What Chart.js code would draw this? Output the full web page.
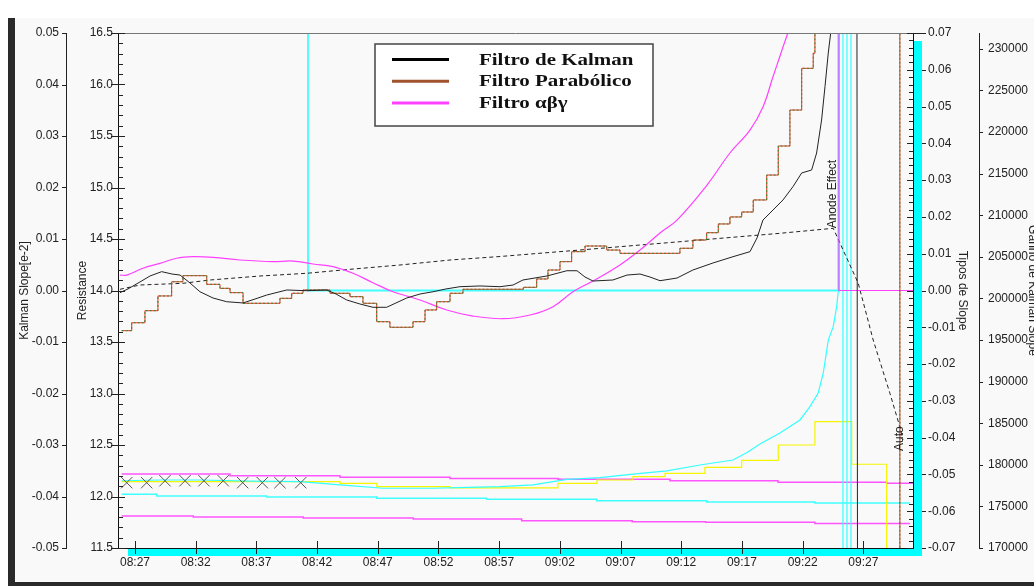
<!DOCTYPE html>
<html>
<head>
<meta charset="utf-8">
<script src="https://cdn.jsdelivr.net/npm/chart.js@4.4.0/dist/chart.umd.min.js"></script>
<style>
html, body { margin: 0; padding: 0; overflow: hidden; background: #fff; width: 1034px; height: 586px; }
#frame { position: absolute; left: 8px; top: 18px; width: 1019px; height: 564px; background: #f9f9f9;
         border-left: 7px solid #2a2a2a; border-bottom: 4px solid #2a2a2a; }
#c { position: absolute; left: 0; top: 0; }
</style>
</head>
<body>
<div id="frame"></div>
<canvas id="c" width="1040" height="586"></canvas>
<script>
// time is in minutes after 08:00
const xMin = 25.6, xMax = 91.09;
const xTickValues = [27, 32, 37, 42, 47, 52, 57, 62, 67, 72, 77, 82, 87];
const xTickLabels = ['08:27', '08:32', '08:37', '08:42', '08:47', '08:52', '08:57',
                     '09:02', '09:07', '09:12', '09:17', '09:22', '09:27'];
const ganhoTicks = [170000, 175000, 180000, 185000, 190000, 195000, 200000,
                    205000, 210000, 215000, 220000, 225000, 230000];

const legendLabels = ['Filtro de Kalman', 'Filtro Parabólico', 'Filtro αβγ'];

// Filtro de Kalman (Resistance)
const kalmanTime = [25.76, 26.42, 27.41, 28.24, 29.20, 30.05, 30.71, 31.53, 32.35, 33.43, 34.55, 35.90,
  36.88, 37.85, 39.50, 41.14, 42.79, 43.56, 44.44, 45.53, 46.60, 47.73, 48.50, 49.38, 50.48, 51.55,
  52.62, 53.77, 55.42, 57.07, 58.14, 58.96, 60.94, 62.58, 63.41, 64.07, 64.73, 66.37, 67.53, 68.60,
  69.42, 70.25, 71.65, 72.96, 74.61, 76.26, 77.66, 78.24, 78.73, 79.31, 80.38, 81.20, 81.92, 82.74,
  83.15, 83.56, 83.84, 84.11, 84.31, 84.50, 86.47, 86.52, 91.10];
const kalmanRes = [13.979, 14.015, 14.083, 14.141, 14.183, 14.160, 14.150, 14.073, 13.988, 13.927, 13.891, 13.879,
  13.917, 13.956, 14.005, 13.998, 14.005, 13.966, 13.908, 13.869, 13.837, 13.837, 13.879, 13.927, 13.966, 13.988,
  14.015, 14.037, 14.044, 14.037, 14.053, 14.102, 14.141, 14.192, 14.192, 14.131, 14.092, 14.102, 14.150, 14.160,
  14.131, 14.095, 14.121, 14.199, 14.267, 14.328, 14.377, 14.510, 14.684, 14.752, 14.879, 15.008, 15.141, 15.170,
  15.335, 15.655, 15.979, 16.306, 16.500, 17.000, 17.000, 11.000, 11.000];

// Filtro Parabólico (Resistance, step changes)
const paraTime = [25.90, 26.73, 27.82, 28.89, 30.02, 30.95, 32.91, 34.00, 34.83, 35.90, 38.94, 39.91, 40.84,
  43.06, 44.71, 45.78, 46.91, 48.00, 49.90, 50.89, 51.85, 52.95, 54.02, 58.99, 60.09, 61.02, 62.01, 62.97,
  64.07, 65.86, 66.95, 71.89, 72.96, 74.09, 75.05, 76.01, 76.98, 77.93, 79.04, 79.99, 80.95, 81.92, 82.87,
  83.01, 90.01];
const paraRes = [13.610, 13.687, 13.804, 13.947, 14.085, 14.144, 14.060, 14.021, 13.979, 13.876, 13.924, 13.973, 14.005,
  13.973, 13.940, 13.876, 13.697, 13.643, 13.697, 13.811, 13.891, 13.973, 14.012, 14.031, 14.112, 14.199, 14.280, 14.377,
  14.432, 14.393, 14.361, 14.410, 14.490, 14.561, 14.646, 14.714, 14.762, 14.879, 15.121, 15.403, 15.752, 16.157, 16.303,
  17.000, 11.000];

// Filtro αβγ (Resistance): smooth part, then the drop after the anode effect
const abgTime = [25.76, 26.32, 27.66, 29.06, 30.43, 31.78, 33.43, 35.65, 38.37, 40.01, 41.66, 43.31, 44.96,
  46.60, 48.25, 50.48, 52.68, 54.84, 57.31, 59.54, 61.43, 63.08, 64.73, 66.95, 68.60, 70.25, 71.65, 74.12,
  76.01, 77.66, 78.73, 79.55, 80.38, 80.95, 81.50];
const abgRes = [14.150, 14.150, 14.216, 14.264, 14.313, 14.328, 14.322, 14.296, 14.280, 14.286, 14.257, 14.231, 14.167,
  14.076, 13.988, 13.908, 13.811, 13.752, 13.726, 13.762, 13.843, 13.988, 14.092, 14.248, 14.393, 14.558, 14.684, 15.024,
  15.335, 15.558, 15.782, 16.073, 16.364, 16.578, 17.000];
const abgTailTime = [84.99, 84.99, 91.10];
const abgTailRes = [17.000, 14.000, 14.000];

// cyan resistance trace
const cyanTime = [25.90, 29.06, 32.35, 36.47, 40.59, 43.89, 47.43, 51.55, 54.35, 57.07, 59.78, 62.58, 65.30,
  68.02, 70.82, 73.54, 76.26, 77.49, 78.48, 80.13, 81.78, 82.60, 83.28, 83.70, 84.11, 84.52, 84.80, 84.93,
  84.99, 85.32, 85.32, 85.65, 85.65, 85.98, 85.98];
const cyanRes = [12.153, 12.160, 12.160, 12.150, 12.144, 12.112, 12.080, 12.080, 12.089, 12.095, 12.112, 12.167, 12.183,
  12.218, 12.248, 12.306, 12.354, 12.432, 12.510, 12.617, 12.743, 12.872, 13.005, 13.199, 13.519, 13.649, 13.843, 13.988,
  17.000, 17.000, 11.000, 11.000, 17.000, 17.000, 11.000];

// Tipos de Slope
const tiposTime = [25.60, 41.25, 41.25, 84.93, 84.93];
const tiposVal = [0.10, 0.10, 0.00, 0.00, 0.10];

// yellow trace (step changes)
const yellowTime = [25.90, 43.89, 46.93, 52.95, 61.84, 65.06, 68.02, 70.66, 73.95, 76.98, 79.99, 83.01, 86.04, 88.92];
const yellowRes = [12.144, 12.128, 12.095, 12.083, 12.128, 12.160, 12.192, 12.225, 12.283, 12.350, 12.500, 12.726, 12.313, 11.000];

// flat limit lines (step changes)
const magHighTime = [25.90, 34.83, 43.89, 52.95, 61.84, 71.07, 79.97, 88.92, 91.10];
const magHighRes = [12.218, 12.202, 12.186, 12.175, 12.167, 12.153, 12.138, 12.128, 12.128];
const cyanLowTime = [25.90, 28.79, 37.85, 46.91, 55.97, 65.03, 74.09, 83.01, 90.84];
const cyanLowRes = [12.021, 12.005, 11.995, 11.983, 11.973, 11.959, 11.947, 11.937, 11.937];
const magLowTime = [25.90, 31.80, 40.86, 49.92, 58.85, 67.96, 74.01, 83.01, 90.84];
const magLowRes = [11.811, 11.801, 11.791, 11.782, 11.765, 11.755, 11.749, 11.739, 11.739];

// X markers
const markTime = [26.32, 27.96, 29.47, 31.12, 32.68, 34.27, 35.87, 37.49, 38.94, 40.65];
const markRes = [12.134, 12.134, 12.153, 12.153, 12.153, 12.153, 12.134, 12.134, 12.134, 12.134];

// Ganho de Kalman Slope (dashed)
const ganhoTime = [25.76, 27.41, 30.95, 33.18, 37.30, 41.14, 44.71, 48.83, 52.95, 57.07, 63.66, 71.89, 80.13,
  84.52, 86.58, 87.81, 89.19, 90.01, 90.26];
const ganhoVal = [201093, 201610, 201814, 202211, 202692, 203016, 203497, 204014, 204615, 205035, 205817, 206814, 207824,
  208425, 201814, 195000, 188593, 184543, 182981];

// event labels
const noteText = ['Anode Effect', 'Auto'];
const noteTime = [84.52, 90.26];
const noteGanho = [208425, 182981];

function pts(xs, ys) { return xs.map((x, i) => ({ x: x, y: ys[i] })); }

const FONT = 'Liberation Sans, Arial, sans-serif';

function ticksY(ctx, scale, step, x0, x1) {
  const n0 = Math.ceil(scale.min / step - 1e-6), n1 = Math.floor(scale.max / step + 1e-6);
  ctx.beginPath();
  for (let n = n0; n <= n1; n++) {
    const y = Math.round(scale.getPixelForValue(n * step)) + 0.5;
    ctx.moveTo(x0, y); ctx.lineTo(x1, y);
  }
  ctx.stroke();
}

const decor = {
  id: 'decor',
  afterDatasetsDraw(chart) {
    const { ctx, chartArea: a, scales } = chart;
    ctx.save();
    ctx.lineWidth = 1;
    ctx.strokeStyle = '#777';
    ctx.beginPath(); ctx.moveTo(a.left, a.top + 0.5); ctx.lineTo(a.right, a.top + 0.5); ctx.stroke();

    ctx.strokeStyle = '#222';
    ticksY(ctx, scales.res, 0.1, a.left, a.left + 5);
    ticksY(ctx, scales.res, 0.5, a.left - 7, a.left + 7);
    ticksY(ctx, scales.kal, 0.01, scales.kal.right - 4, scales.kal.right);
    ticksY(ctx, scales.tipos, 0.002, a.right - 4, a.right);
    ticksY(ctx, scales.tipos, 0.01, a.right - 6, a.right + 13);
    ticksY(ctx, scales.ganho, 5000, scales.ganho.left, scales.ganho.left + 4);

    // cyan bars along the bottom and right axes
    ctx.fillStyle = '#00ffff';
    ctx.fillRect(a.left + 10, a.bottom + 1, a.right - a.left - 1, 7);
    ctx.fillRect(a.right + 1, a.top + 8, 8, a.bottom - a.top);

    ctx.strokeStyle = '#222';
    ctx.beginPath();
    xTickValues.forEach(v => {
      const x = Math.round(scales.x.getPixelForValue(v)) + 0.5;
      ctx.moveTo(x, a.bottom - 7); ctx.lineTo(x, a.bottom + 6);
    });
    ctx.stroke();
    ctx.restore();
  },
  afterDraw(chart) {
    const { ctx, chartArea: a, scales } = chart;
    ctx.save();
    // notes
    ctx.fillStyle = '#222';
    ctx.font = '12px ' + FONT;
    ctx.textAlign = 'left';
    ctx.textBaseline = 'bottom';
    noteText.forEach((t, i) => {
      const x = scales.x.getPixelForValue(noteTime[i]);
      const y = scales.ganho.getPixelForValue(noteGanho[i]);
      ctx.save();
      ctx.translate(x + (i === 0 ? 5 : 3), y + (i === 0 ? 0 : 11));
      ctx.rotate(-Math.PI / 2);
      ctx.fillText(t, 0, 0);
      ctx.restore();
    });

    // legend box
    const colors = ['#000000', '#a0522d', '#ff40ff'];
    const bx = a.left + 257, by = a.top + 11, bw = 278, bh = 82;
    ctx.fillStyle = '#ffffff';
    ctx.fillRect(bx, by, bw, bh);
    ctx.strokeStyle = '#444';
    ctx.lineWidth = 1.5;
    ctx.strokeRect(bx, by, bw, bh);
    ctx.font = 'bold 16.5px "Liberation Serif", "Times New Roman", serif';
    ctx.textBaseline = 'middle';
    legendLabels.forEach((lab, i) => {
      const y = by + 15.5 + i * 21.7;
      ctx.strokeStyle = colors[i];
      ctx.lineWidth = 3;
      ctx.beginPath(); ctx.moveTo(bx + 17, y); ctx.lineTo(bx + 74, y); ctx.stroke();
      ctx.save();
      ctx.translate(bx + 104, y + 1);
      ctx.scale(1.27, 1);
      ctx.fillStyle = '#111';
      ctx.fillText(lab, 0, 0);
      ctx.restore();
    });
    ctx.restore();
  }
};

const tickFont = { family: FONT, size: 12 };
const titleFont = { family: FONT, size: 12 };

new Chart(document.getElementById('c'), {
  type: 'line',
  data: {
    datasets: [
      { data: pts(kalmanTime, kalmanRes), yAxisID: 'res', borderColor: '#222', borderWidth: 1 },
      { data: pts(paraTime, paraRes), yAxisID: 'res', borderColor: '#2e8b2e', borderWidth: 1, borderDash: [2, 2], stepped: 'before' },
      { data: pts(paraTime, paraRes), yAxisID: 'res', borderColor: '#ee3322', borderWidth: 1, stepped: 'before' },
      { data: pts(abgTime, abgRes), yAxisID: 'res', borderColor: '#ff40ff', borderWidth: 1.2, tension: 0.4 },
      { data: pts(abgTailTime, abgTailRes), yAxisID: 'res', borderColor: '#ff40ff', borderWidth: 1.2 },
      { data: pts(ganhoTime, ganhoVal), yAxisID: 'ganho', borderColor: '#222', borderWidth: 1, borderDash: [4, 3] },
      { data: pts(markTime, markRes), yAxisID: 'res', showLine: false, pointStyle: 'crossRot', pointRadius: 8,
        pointBorderColor: '#555', pointBorderWidth: 1, borderColor: '#555' },
      { data: pts(cyanTime, cyanRes), yAxisID: 'res', borderColor: '#33ffff', borderWidth: 1.2 },
      { data: pts(tiposTime, tiposVal), yAxisID: 'tipos', borderColor: '#40ffff', borderWidth: 1.8 },
      { data: pts(yellowTime, yellowRes), yAxisID: 'res', borderColor: '#f5f500', borderWidth: 1.2, stepped: 'before' },
      { data: pts(magHighTime, magHighRes), yAxisID: 'res', borderColor: '#ff55ff', borderWidth: 1.5, stepped: 'before' },
      { data: pts(cyanLowTime, cyanLowRes), yAxisID: 'res', borderColor: '#40ffff', borderWidth: 1.5, stepped: 'before' },
      { data: pts(magLowTime, magLowRes), yAxisID: 'res', borderColor: '#ff55ff', borderWidth: 1.5, stepped: 'before' }
    ]
  },
  options: {
    responsive: false,
    animation: false,
    devicePixelRatio: 1,
    events: [],
    parsing: false,
    elements: { point: { radius: 0 }, line: { tension: 0, fill: false } },
    layout: { padding: { left: 15, right: 0, top: 33, bottom: 0 } },
    plugins: { legend: { display: false }, tooltip: { enabled: false } },
    scales: {
      x: {
        type: 'linear', position: 'bottom', min: xMin, max: xMax,
        grid: { display: false, drawTicks: false },
        border: { color: '#111', width: 1 },
        ticks: { autoSkip: false, maxRotation: 0, padding: 7, color: '#222', font: tickFont,
          callback: v => { const i = xTickValues.indexOf(v); return i >= 0 ? xTickLabels[i] : ''; } },
        afterBuildTicks: s => { s.ticks = xTickValues.map(v => ({ value: v })); },
        afterFit: s => { s.height = 38; }
      },
      kal: {
        type: 'linear', position: 'left', weight: 2, min: -0.05, max: 0.05,
        grid: { display: false, drawTicks: false },
        border: { color: '#222', dash: [3, 2] },
        ticks: { stepSize: 0.01, maxTicksLimit: 100, padding: 7, color: '#222', font: tickFont,
          callback: v => (Math.abs(v) < 1e-9 ? 0 : v).toFixed(2) },
        title: { display: true, text: 'Kalman Slope[e-2]', color: '#222', font: titleFont, padding: { top: 2, bottom: 0 } },
        afterFit: s => { s.width = 51; }
      },
      res: {
        type: 'linear', position: 'left', weight: 1, min: 11.5, max: 16.5,
        grid: { display: false, drawTicks: false },
        border: { color: '#111' },
        ticks: { stepSize: 0.5, maxTicksLimit: 100, padding: 5, color: '#222', font: tickFont,
          callback: v => v.toFixed(1) },
        title: { display: true, text: 'Resistance', color: '#222', font: titleFont, padding: { top: 9, bottom: 0 } },
        afterFit: s => { s.width = 52; }
      },
      tipos: {
        type: 'linear', position: 'right', weight: 1, min: -0.07, max: 0.07,
        grid: { display: false, drawTicks: false },
        border: { color: '#111' },
        ticks: { stepSize: 0.01, maxTicksLimit: 100, padding: 15, color: '#222', font: tickFont,
          callback: v => (Math.abs(v) < 1e-9 ? 0 : v).toFixed(2) },
        title: { display: true, text: 'Tipos de Slope', color: '#222', font: titleFont, padding: { top: 9, bottom: 0 } },
        afterFit: s => { s.width = 66; }
      },
      ganho: {
        type: 'linear', position: 'right', weight: 2, min: 170000, max: 231900,
        grid: { display: false, drawTicks: false },
        border: { color: '#222', dash: [3, 2] },
        ticks: { padding: 9, color: '#222', font: tickFont, callback: v => String(Math.round(v)) },
        afterBuildTicks: s => { s.ticks = ganhoTicks.map(v => ({ value: v })); },
        title: { display: true, text: 'Ganho de Kalman Slope', color: '#222', font: titleFont, padding: { top: 0, bottom: 0 } },
        afterFit: s => { s.width = 61; }
      }
    }
  },
  plugins: [decor]
});
</script>
</body>
</html>
